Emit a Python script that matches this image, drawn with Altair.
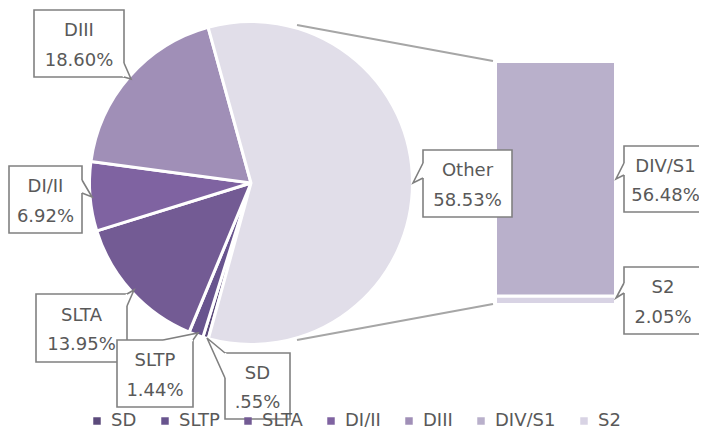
import math
import altair as alt
import pandas as pd

# ---------------- data ----------------
pie_names = ["SD", "SLTP", "SLTA", "DI/II", "DIII", "Other"]
pie_values = [0.55, 1.44, 13.95, 6.92, 18.60, 58.53]
bar_names = ["S2", "DIV/S1"]
bar_values = [2.05, 56.48]
legend_names = ["SD", "SLTP", "SLTA", "DI/II", "DIII", "DIV/S1", "S2"]
color_domain = legend_names + ["Other"]
color_range = ["#5b4a7b", "#68548e", "#735b94", "#7f63a1", "#a08fb7",
               "#b9b0cb", "#d8d3e4", "#e1dee9"]

# ---------------- layout (page pixel coords; page margin = 8) ----------------
M = 8
W, H = 707 - 2 * M, 435 - 2 * M
FONT = "DejaVu Sans"
TEXT_COLOR = "#595959"
BOX_COLOR = "#808080"
LINE_H = 29.5
TEXT_DY = 2.5
PIE_CX, PIE_CY, PIE_R = 251, 183, 161.5
BAR_X0, BAR_X1, BAR_TOP, BAR_BOTTOM = 495.5, 615.5, 61.5, 304.5

# callouts: name -> (box x0, y0, x1, y1), pointer base point 1, tip, base point 2
callouts = {
    "DIII":   ((34, 10, 124, 77),  (124, 63),  (131, 79),  (124, 77)),
    "DI/II":  ((9, 166, 82, 233),  (82, 180),  (92, 197),  (82, 193)),
    "SLTA":   ((36, 294, 127, 362), (127, 306), (134, 290), (127, 294)),
    "SLTP":   ((117, 340, 193, 407), (163, 340), (198, 333), (193, 340)),
    "SD":     ((225, 353, 290, 419), (225, 378), (207, 338), (225, 353)),
    "Other":  ((423, 150, 512, 217), (423, 163), (413, 183), (423, 178)),
    "DIV/S1": ((624, 146, 712, 212), (624, 163), (616, 179), (624, 175)),
    "S2":     ((624, 267, 702, 334), (624, 283), (616, 298), (624, 293)),
}
connectors = [((297, 25), (493, 61)), ((297, 340), (493, 304))]


def pct(v):
    s = f"{v:.2f}%"
    return s[1:] if s.startswith("0.") else s


values = dict(zip(pie_names, pie_values))
values.update(dict(zip(bar_names, bar_values)))

# ---------------- tables ----------------
pie_df = pd.DataFrame({"name": pie_names, "value": pie_values,
                       "idx": list(range(len(pie_names)))})
bar_df = pd.DataFrame({"name": bar_names, "value": bar_values,
                       "idx": list(range(len(bar_names)))})

box_rows, ptr_rows, cover_rows, text_rows = [], [], [], []
for name, (box, b1, tip, b2) in callouts.items():
    x0, y0, x1, y1 = box
    box_rows.append({"x0": x0 - M, "y0": y0 - M, "x1": x1 - M, "y1": y1 - M})
    for k, p in enumerate((b1, tip, b2)):
        ptr_rows.append({"id": name, "k": k, "x": p[0] - M, "y": p[1] - M})
    cover_rows.append({"x": b1[0] - M, "y": b1[1] - M, "x2": b2[0] - M, "y2": b2[1] - M})
    text_rows.append({"cx": (x0 + min(x1, 707)) / 2 - M,
                      "cy": (y0 + y1) / 2 - M - LINE_H / 2 + TEXT_DY,
                      "label": f"{name}\n{pct(values[name])}"})
box_df = pd.DataFrame(box_rows)
ptr_df = pd.DataFrame(ptr_rows)
cover_df = pd.DataFrame(cover_rows)
text_df = pd.DataFrame(text_rows)
conn_df = pd.DataFrame([{"x": a[0] - M, "y": a[1] - M, "x2": b[0] - M, "y2": b[1] - M}
                        for a, b in connectors])

# ---------------- encodings ----------------
color_enc = alt.Color(
    "name:N",
    scale=alt.Scale(domain=color_domain, range=color_range),
    legend=alt.Legend(
        orient="none", legendX=80, legendY=404, direction="horizontal",
        columns=7, values=legend_names, title=None, symbolType="square",
        symbolSize=56, symbolStrokeWidth=0, labelFont=FONT, labelFontSize=18,
        labelColor=TEXT_COLOR, labelOffset=5, columnPadding=19, padding=0,
    ),
)

other_share = values["Other"] / 100.0
start_angle = math.pi / 2 + other_share * math.pi  # "Other" centred at 3 o'clock

pie = (
    alt.Chart(pie_df)
    .transform_window(cum="sum(value)", sort=[alt.SortField("idx")])
    .transform_calculate(start="datum.cum - datum.value")
    .mark_arc(radius=PIE_R, stroke="white", strokeWidth=3)
    .encode(
        theta=alt.Theta("start:Q", scale=alt.Scale(domain=[0, 100],
                        range=[start_angle, start_angle + 2 * math.pi])),
        theta2="cum:Q",
        color=color_enc,
        x=alt.value(PIE_CX - M),
        y=alt.value(PIE_CY - M),
    )
)

bar = (
    alt.Chart(bar_df)
    .transform_window(cum="sum(value)", sort=[alt.SortField("idx")])
    .transform_calculate(start="datum.cum - datum.value")
    .mark_rect(stroke="white", strokeWidth=3)
    .encode(
        y=alt.Y("start:Q", axis=None,
                scale=alt.Scale(domain=[0, sum(bar_values)], nice=False, zero=False,
                                range=[BAR_BOTTOM - M, BAR_TOP - M])),
        y2="cum:Q",
        x=alt.value(BAR_X0 - M),
        x2=alt.value(BAR_X1 - M),
        color=color_enc,
    )
)

conn = (
    alt.Chart(conn_df)
    .mark_rule(color="#a6a6a6", strokeWidth=2)
    .encode(x=alt.X("x:Q", scale=None), y=alt.Y("y:Q", scale=None),
            x2="x2:Q", y2="y2:Q")
)

boxes = (
    alt.Chart(box_df)
    .mark_rect(fill="white", stroke=BOX_COLOR, strokeWidth=1.6)
    .encode(x=alt.X("x0:Q", scale=None), x2="x1:Q",
            y=alt.Y("y0:Q", scale=None), y2="y1:Q")
)

cover = (
    alt.Chart(cover_df)
    .mark_rule(color="white", strokeWidth=2.6)
    .encode(x=alt.X("x:Q", scale=None), y=alt.Y("y:Q", scale=None),
            x2="x2:Q", y2="y2:Q")
)

pointers = (
    alt.Chart(ptr_df)
    .mark_line(color=BOX_COLOR, strokeWidth=1.6)
    .encode(x=alt.X("x:Q", scale=None), y=alt.Y("y:Q", scale=None),
            detail="id:N", order="k:Q")
)

texts = (
    alt.Chart(text_df)
    .mark_text(font=FONT, fontSize=18, color=TEXT_COLOR, lineBreak="\n",
               lineHeight=LINE_H, align="center", baseline="middle")
    .encode(x=alt.X("cx:Q", scale=None), y=alt.Y("cy:Q", scale=None),
            text="label:N")
)

chart = (
    alt.layer(pie, bar, conn, boxes, cover, pointers, texts)
    .resolve_scale(x="independent", y="independent")
    .properties(width=W, height=H, padding=0,
                autosize=alt.AutoSizeParams(type="none"))
    .configure_view(stroke=None)
)

chart.save("out.html", embed_options={"renderer": "svg", "actions": False})
